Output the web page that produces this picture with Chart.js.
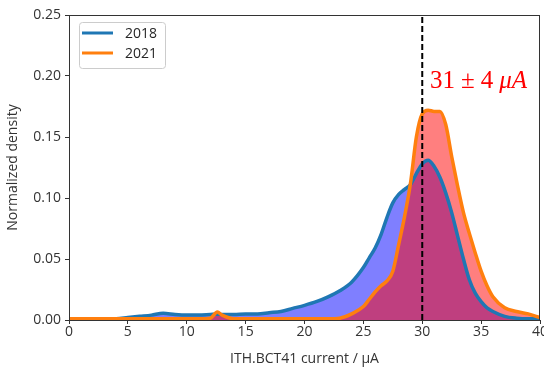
<!DOCTYPE html>
<html>
<head>
<meta charset="utf-8">
<script src="https://cdn.jsdelivr.net/npm/chart.js@4/dist/chart.umd.min.js"></script>
<style>
  html, body { margin: 0; padding: 0; background: #fff; }
  #wrap { width: 544px; height: 367px; position: relative; }
</style>
</head>
<body>
<div id="wrap"><canvas id="c" width="544" height="367"></canvas></div>
<script>
// ---- data ----
const xValues = [0,2,4,5,6,7,8,9,10,11,12,12.6,13,14,15,16,17,18,19,20,21,22,23,24,25,25.5,26,26.5,27,27.5,28,28.5,29,29.5,30,30.5,31,31.5,32,32.5,33,33.5,34,34.5,35,35.5,36,37,38,39,40];
const density2018 = [0.001,0.001,0.001,0.002,0.003,0.004,0.0055,0.0045,0.004,0.004,0.0045,0.0048,0.0045,0.0045,0.005,0.005,0.006,0.007,0.0095,0.012,0.015,0.019,0.024,0.031,0.043,0.051,0.059,0.070,0.084,0.096,0.103,0.107,0.111,0.120,0.128,0.131,0.126,0.117,0.104,0.088,0.069,0.050,0.033,0.022,0.015,0.010,0.007,0.003,0.0015,0.001,0.001];
const density2021 = [0.001,0.001,0.001,0.001,0.001,0.001,0.001,0.001,0.001,0.001,0.0015,0.0065,0.004,0.001,0.001,0.001,0.001,0.001,0.001,0.001,0.001,0.001,0.0015,0.005,0.011,0.017,0.023,0.028,0.032,0.040,0.062,0.085,0.112,0.150,0.169,0.172,0.171,0.171,0.160,0.134,0.110,0.088,0.071,0.055,0.040,0.028,0.019,0.010,0.007,0.005,0.002];
const seriesLabels = ['2018', '2021'];
const meanCurrent = 30;
const annotationParts = ['31', '\u00b1', '4', '\u03bcA'];
const xTicks = [0,5,10,15,20,25,30,35,40];
const yTicks = [0,0.05,0.10,0.15,0.20,0.25];

const pts = ys => xValues.map((x, i) => ({x, y: ys[i]}));
const FONT = '"Open Sans"';

const frameAndExtras = {
  id: 'frameAndExtras',
  afterDraw(chart) {
    const {ctx, chartArea: a} = chart;
    ctx.save();
    // frame
    ctx.strokeStyle = '#333';
    ctx.lineWidth = 1;
    ctx.strokeRect(Math.round(a.left) + 0.5, Math.round(a.top) + 0.5, Math.round(a.right - a.left) - 1, Math.round(a.bottom - a.top));
    // annotation
    let tx = a.left + 361;
    const ty = a.top + 73;
    ctx.fillStyle = '#ff0000';
    ctx.textBaseline = 'alphabetic';
    annotationParts.forEach((p, i) => {
      ctx.font = (i === 3 ? 'italic ' : '') + '25px "Liberation Serif"';
      ctx.fillText(p, tx, ty);
      tx += ctx.measureText(p).width + 6;
    });
    // legend
    const lx = a.left + 10, ly = a.top + 7, lw = 86, lh = 46;
    ctx.fillStyle = 'rgba(255,255,255,0.85)';
    ctx.strokeStyle = '#cccccc';
    ctx.lineWidth = 1;
    ctx.beginPath();
    ctx.roundRect(lx + 0.5, ly + 0.5, lw, lh, 3);
    ctx.fill();
    ctx.stroke();
    const cols = ['#1f77b4', '#ff7f0e'];
    ctx.font = '14px ' + FONT;
    ctx.textBaseline = 'middle';
    seriesLabels.forEach((lab, i) => {
      const yy = ly + 11 + i * 20;
      ctx.strokeStyle = cols[i];
      ctx.lineWidth = 3;
      ctx.beginPath();
      ctx.moveTo(lx + 3, yy);
      ctx.lineTo(lx + 34, yy);
      ctx.stroke();
      ctx.fillStyle = '#262626';
      ctx.fillText(lab, lx + 46, yy + 1);
    });
    ctx.restore();
  }
};

new Chart(document.getElementById('c'), {
  type: 'line',
  data: {
    datasets: [
      { label: 'fill2018', data: pts(density2018), borderWidth: 0, pointRadius: 0, fill: 'origin', backgroundColor: 'rgba(0,0,255,0.5)', cubicInterpolationMode: 'monotone', order: 5 },
      { label: 'fill2021', data: pts(density2021), borderWidth: 0, pointRadius: 0, fill: 'origin', backgroundColor: 'rgba(255,0,0,0.5)', cubicInterpolationMode: 'monotone', order: 4 },
      { label: seriesLabels[0], data: pts(density2018), borderColor: '#1f77b4', borderWidth: 3.5, pointRadius: 0, fill: false, cubicInterpolationMode: 'monotone', order: 3 },
      { label: seriesLabels[1], data: pts(density2021), borderColor: '#ff7f0e', borderWidth: 3.5, pointRadius: 0, fill: false, cubicInterpolationMode: 'monotone', order: 2 },
      { label: 'mean', data: [{x: meanCurrent, y: 0}, {x: meanCurrent, y: 0.25}], borderColor: '#000', borderWidth: 2, borderDash: [6, 3], pointRadius: 0, fill: false, order: 1 }
    ]
  },
  options: {
    responsive: false,
    animation: false,
    devicePixelRatio: 1,
    layout: { padding: { left: 0, right: 4, top: 15, bottom: 0 } },
    plugins: { legend: { display: false }, tooltip: { enabled: false } },
    scales: {
      x: {
        type: 'linear', min: 0, max: 40,
        afterFit: s => { s.height = 47; s.paddingRight = 0; s.paddingLeft = 0; },
        afterBuildTicks: s => { s.ticks = xTicks.map(v => ({value: v})); },
        ticks: { color: '#333', font: { family: 'Open Sans', size: 14 }, padding: 0, maxRotation: 0 },
        grid: { display: true, drawOnChartArea: false, drawTicks: true, tickLength: 4, color: '#333' },
        border: { display: false },
        title: { display: true, text: 'ITH.BCT41 current / \u03bcA', color: '#333', font: { family: 'Open Sans', size: 14 }, padding: { top: 0, bottom: 0 } }
      },
      y: {
        type: 'linear', min: 0, max: 0.25,
        afterFit: s => { s.width = 69; s.paddingTop = 0; s.paddingBottom = 0; },
        afterBuildTicks: s => { s.ticks = yTicks.map(v => ({value: v})); },
        ticks: { color: '#333', font: { family: 'Open Sans', size: 14 }, padding: 4, callback: v => Number(v).toFixed(2) },
        grid: { display: true, drawOnChartArea: false, drawTicks: true, tickLength: 4, color: '#333' },
        border: { display: false },
        title: { display: true, text: 'Normalized density', color: '#333', font: { family: 'Open Sans', size: 14 }, padding: { top: 5, bottom: 0 } }
      }
    }
  },
  plugins: [frameAndExtras]
});
</script>
</body>
</html>
